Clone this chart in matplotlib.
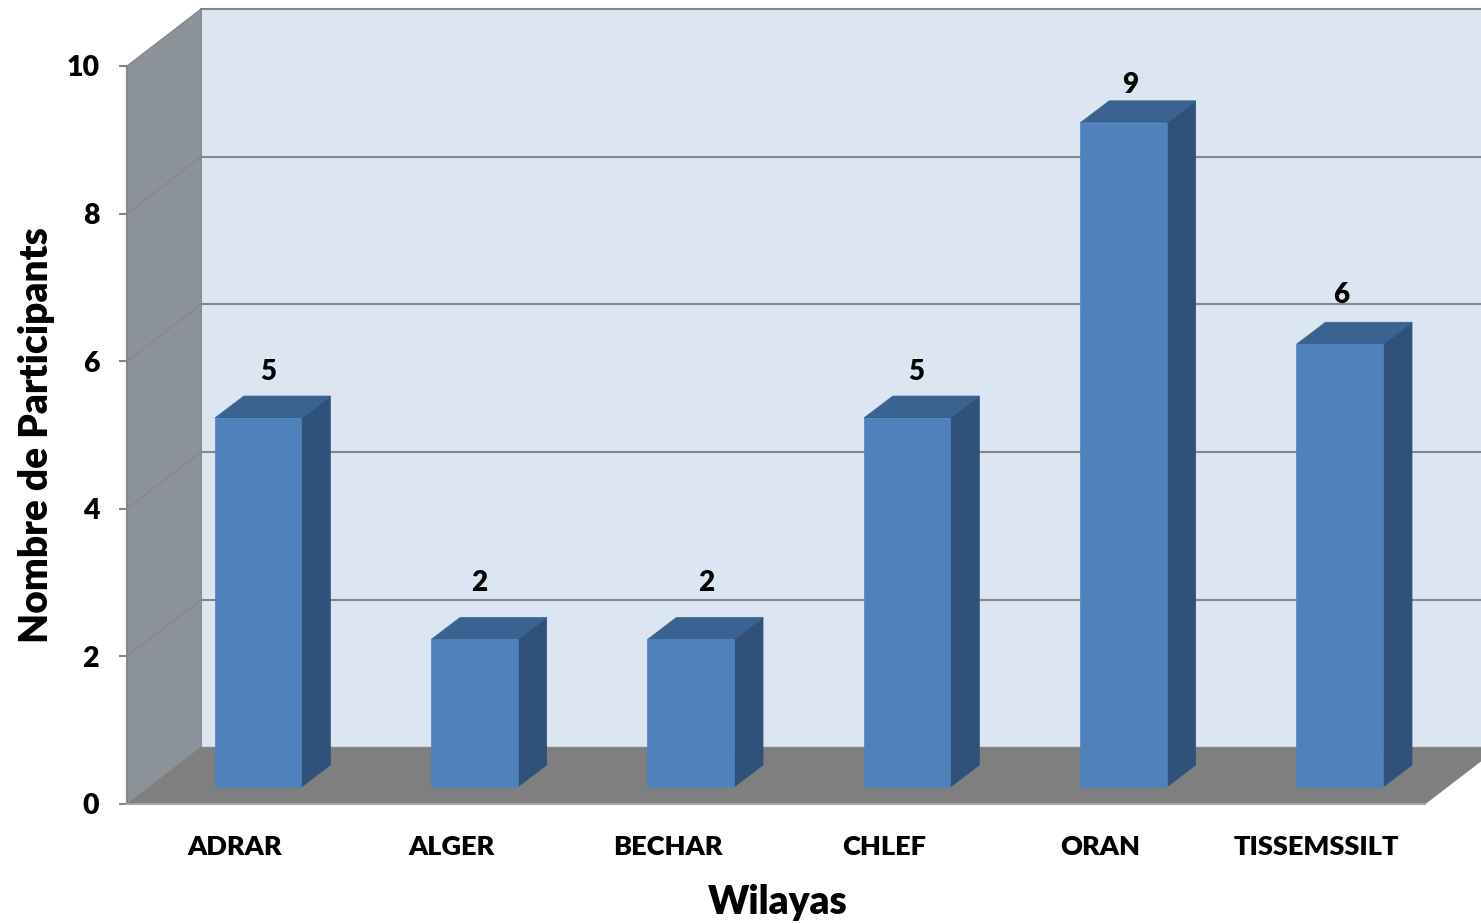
import matplotlib
matplotlib.use("Agg")
import matplotlib.pyplot as plt
from matplotlib.patches import Polygon

wilayas = ["ADRAR", "ALGER", "BECHAR", "CHLEF", "ORAN", "TISSEMSSILT"]
participants = [5, 2, 2, 5, 9, 6]
y_ticks = [0, 2, 4, 6, 8, 10]

# label nudges in pixels, the source chart places them a bit unevenly
label_dx = [10.5, 4.5, 15.5, 9, 6.5, 1.5]
label_dy = [46, 56, 56, 46, 38, 49]

# oblique depth of the fake 3d box, in data units
WALL_DX, WALL_DY = 0.342, 0.77
BAR_SHIFT_X, BAR_SHIFT_Y = 0.106, 0.23
BAR_W = 0.40
BAR_DX, BAR_DY = 0.134, 0.298

GRID = "#868686"
WEIGHT = "heavy"

plt.rcParams["font.family"] = ["Lato", "DejaVu Sans"]
plt.rcParams["font.weight"] = WEIGHT

W, H = 1481, 924
fig = plt.figure(figsize=(W / 100, H / 100), dpi=100, facecolor="white")
ax = fig.add_axes([127 / W, (H - 804) / H, (1425 - 127) / W, (804 - 66) / H])
ax.set_xlim(-0.5, 5.5)
ax.set_ylim(0, 10)
ax.patch.set_visible(False)


def poly(points, color, z):
    ax.add_patch(Polygon(points, closed=True, facecolor=color, edgecolor=color,
                         linewidth=0.5, clip_on=False, zorder=z))


x0, x1 = -0.5, 5.5

# back wall, side wall, floor
poly([(x0 + WALL_DX, WALL_DY), (x1 + WALL_DX, WALL_DY), (x1 + WALL_DX, 10 + WALL_DY), (x0 + WALL_DX, 10 + WALL_DY)], "#DCE6F2", 1)
poly([(x0, 0), (x0 + WALL_DX, WALL_DY), (x0 + WALL_DX, 10 + WALL_DY), (x0, 10)], "#8B929A", 1)
poly([(x0, 0), (x1, 0), (x1 + WALL_DX, WALL_DY), (x0 + WALL_DX, WALL_DY)], "#7F7F7F", 2)

# gridlines on both walls
for t in y_ticks[1:]:
    ax.plot([x0 + WALL_DX, x1 + WALL_DX], [t + WALL_DY, t + WALL_DY], color=GRID, lw=1.5, clip_on=False, zorder=3)
    ax.plot([x0, x0 + WALL_DX], [t, t + WALL_DY], color=GRID, lw=0.8, clip_on=False, zorder=3)
ax.plot([x0 + WALL_DX, x0 + WALL_DX], [WALL_DY, 10 + WALL_DY], color=GRID, lw=0.7, clip_on=False, zorder=3)

# bars
for i, v in enumerate(participants):
    left = i - BAR_W / 2 + BAR_SHIFT_X
    right = left + BAR_W
    base = BAR_SHIFT_Y
    top = v + BAR_SHIFT_Y
    poly([(right, base), (right + BAR_DX, base + BAR_DY), (right + BAR_DX, top + BAR_DY), (right, top)], "#30527A", 4)
    poly([(left, top), (right, top), (right + BAR_DX, top + BAR_DY), (left + BAR_DX, top + BAR_DY)], "#3A6391", 4)
    poly([(left, base), (right, base), (right, top), (left, top)], "#4F81BD", 5)
    ax.annotate(str(v), xy=(i + BAR_SHIFT_X, top), xytext=(label_dx[i] * 0.72, label_dy[i] * 0.72),
                textcoords="offset points", ha="center", va="center",
                fontsize=20, fontweight=WEIGHT, color="black", zorder=6, annotation_clip=False)

for s in ["top", "right"]:
    ax.spines[s].set_visible(False)
ax.spines["left"].set_color(GRID)
ax.spines["left"].set_linewidth(1.5)
ax.spines["left"].set_zorder(7)
ax.spines["bottom"].set_color("#A6A6A6")
ax.spines["bottom"].set_linewidth(1.5)
ax.spines["bottom"].set_zorder(7)

ax.set_xticks(range(len(wilayas)))
ax.set_xticklabels(wilayas)
ax.set_yticks(y_ticks)
ax.tick_params(axis="x", length=0, pad=22, labelsize=19.5)
ax.tick_params(axis="y", length=6, width=1.5, color=GRID, pad=14, labelsize=20.5)

ax.set_xlabel("Wilayas", fontsize=28, fontweight=WEIGHT)
ax.xaxis.set_label_coords(0.501, -0.108)
ax.set_ylabel("Nombre de Participants", fontsize=28, fontweight=WEIGHT)
ax.yaxis.set_label_coords(-0.0556, 0.5)

fig.savefig("out.png", dpi=100)
